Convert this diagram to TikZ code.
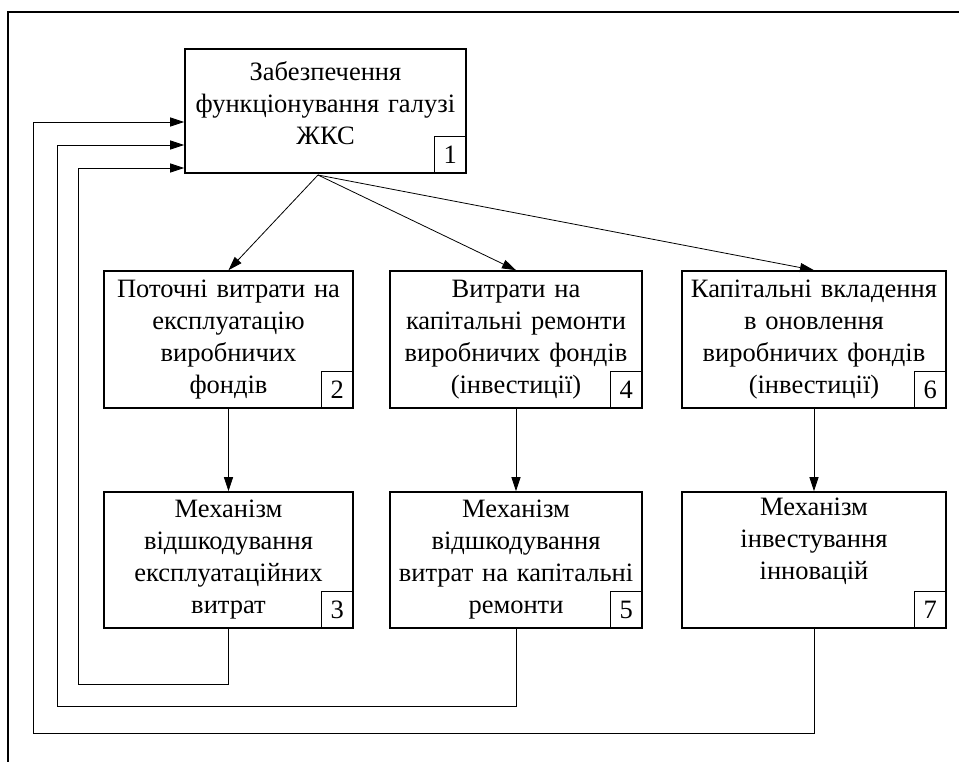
\documentclass[tikz,border=0pt]{standalone}
\usepackage{fontspec}
\setmainfont{Liberation Serif}
\usetikzlibrary{arrows.meta,positioning}

\begin{document}
\begin{tikzpicture}[
        x=1pt, y=-1pt,
        font=\fontsize{26.5}{32}\selectfont,
        block/.style={rectangle, draw, line width=1.6pt, align=center, inner sep=2pt},
        numbox/.style={rectangle, draw, line width=1.2pt, inner sep=0pt, minimum width=32pt, minimum height=37pt, anchor=south east},
        arr/.style={-{Triangle[length=14pt,width=9pt]}, line width=0.8pt},
        link/.style={line width=0.8pt}
    ]
        \useasboundingbox (0,0) rectangle (959,762);
        % Рамка
        \draw[line width=1.6pt] (8,762) -- (8,12) -- (959,12);

        % Блоки
        \node[block, minimum width=281pt, minimum height=124pt, text width=274pt] (b1) at (325.5,111) {Забезпечення\\функціонування галузі\\ЖКС\\[-16pt]\mbox{}};
        \node[block, minimum width=249pt, minimum height=137pt, text width=242pt] (b2) at (228.5,339.5) {Поточні витрати на\\експлуатацію\\виробничих\\фондів};
        \node[block, minimum width=249pt, minimum height=136pt, text width=242pt] (b3) at (228.5,560) {Механізм\\відшкодування\\експлуатаційних\\витрат};
        \node[block, minimum width=252pt, minimum height=137pt, text width=246pt] (b4) at (516,339.5) {Витрати на\\капітальні ремонти\\виробничих фондів\\(інвестиції)};
        \node[block, minimum width=252pt, minimum height=136pt, text width=246pt] (b5) at (516,560) {Механізм\\відшкодування\\витрат на капітальні\\ремонти};
        \node[block, minimum width=264pt, minimum height=137pt, text width=258pt] (b6) at (814,339.5) {Капітальні вкладення\\в оновлення\\виробничих фондів\\(інвестиції)};
        \node[block, minimum width=264pt, minimum height=136pt, text width=258pt] (b7) at (814,560) {Механізм\\інвестування\\інновацій\\\strut};

        % Номери блоків
        \node[numbox] (n1) at (b1.south east) {1};
        \node[numbox] (n2) at (b2.south east) {2};
        \node[numbox] (n3) at (b3.south east) {3};
        \node[numbox] (n4) at (b4.south east) {4};
        \node[numbox] (n5) at (b5.south east) {5};
        \node[numbox] (n6) at (b6.south east) {6};
        \node[numbox] (n7) at (b7.south east) {7};

        % Розгалуження від блоку 1
        \coordinate (out1) at (318,175);
        \draw[arr] (out1) -- (b2.north);
        \draw[arr] (out1) -- (b4.north);
        \draw[arr] (out1) -- (b6.north);
        \draw[arr] (b2) -- (b3);
        \draw[arr] (b4) -- (b5);
        \draw[arr] (b6) -- (b7);

        % Зворотні зв'язки
        \coordinate (c3) at (78,684);
        \coordinate (c5) at (57,706);
        \coordinate (c7) at (33,733);
        \coordinate (in3) at (b1.west |- 0,168);
        \coordinate (in5) at (b1.west |- 0,145);
        \coordinate (in7) at (b1.west |- 0,122);
        \draw[link] (b3.south) |- (c3);
        \draw[arr] (c3) |- (in3);
        \draw[link] (b5.south) |- (c5);
        \draw[arr] (c5) |- (in5);
        \draw[link] (b7.south) |- (c7);
        \draw[arr] (c7) |- (in7);
    \end{tikzpicture}
\end{document}
